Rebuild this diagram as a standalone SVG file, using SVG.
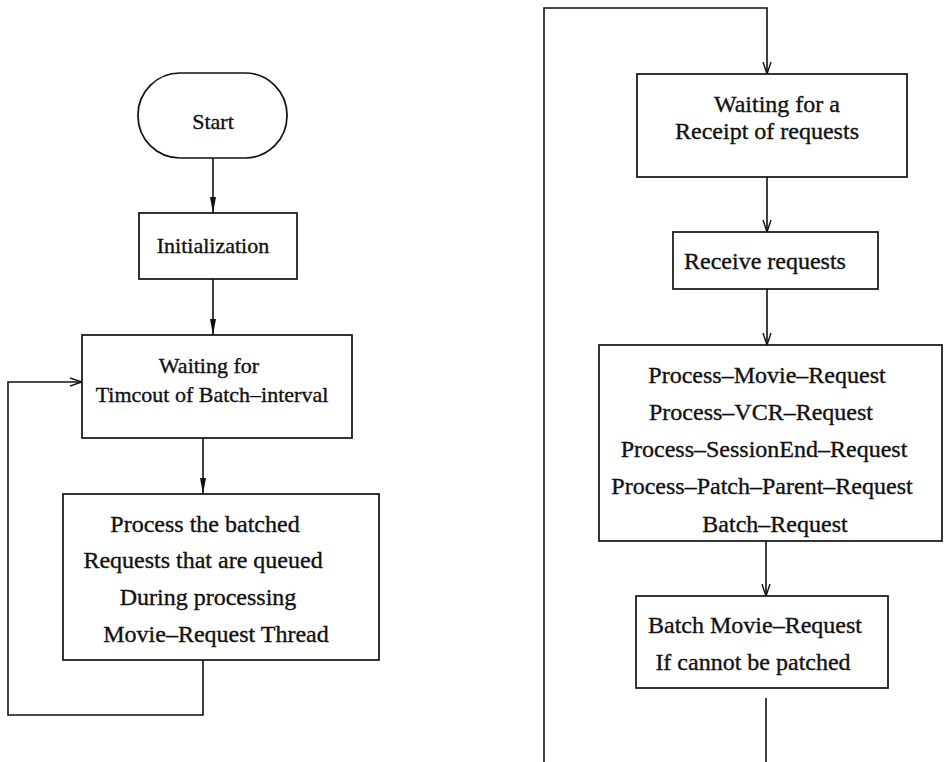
<svg xmlns="http://www.w3.org/2000/svg" width="944" height="762" viewBox="0 0 944 762">
  <style>
    .box { fill: #fff; stroke: #111; stroke-width: 1.7; }
    .ln { fill: none; stroke: #111; stroke-width: 1.6; }
    text { font-family: "Liberation Serif", "Times New Roman", serif; fill: #111; stroke: #111; stroke-width: 0.35; text-anchor: middle; }
    .s22 { font-size: 22px; }
    .s24 { font-size: 24px; }
  </style>
  <defs>
    <marker id="solid" markerUnits="userSpaceOnUse" markerWidth="18" markerHeight="8" refX="16" refY="4" orient="auto">
      <path d="M0,1 L16,4 L0,7 z" fill="#111"/>
    </marker>
    <marker id="open" markerUnits="userSpaceOnUse" markerWidth="14" markerHeight="10" refX="12" refY="5" orient="auto">
      <path d="M0,1 L12,5 L0,9" fill="none" stroke="#111" stroke-width="1.4"/>
    </marker>
  </defs>

  <rect width="944" height="762" fill="#fff"/>

  <!-- connectors -->
  <g id="connectors">
    <line class="ln" x1="213" y1="158" x2="213" y2="213" marker-end="url(#solid)"/>
    <line class="ln" x1="213" y1="279" x2="213" y2="335" marker-end="url(#solid)"/>
    <line class="ln" x1="203" y1="438" x2="203" y2="494" marker-end="url(#solid)"/>
    <polyline class="ln" points="203,660 203,715 8,715 8,382 82,382" marker-end="url(#open)"/>

    <polyline class="ln" points="544,762 544,8 767,8 767,74" marker-end="url(#open)"/>
    <line class="ln" x1="767" y1="177" x2="767" y2="232" marker-end="url(#open)"/>
    <line class="ln" x1="767" y1="289" x2="767" y2="345" marker-end="url(#open)"/>
    <line class="ln" x1="766" y1="541" x2="766" y2="596" marker-end="url(#open)"/>
    <line class="ln" x1="766" y1="698" x2="766" y2="762"/>
  </g>

  <!-- left flow -->
  <g id="start">
    <rect class="box" x="138" y="73" width="149" height="85" rx="42" ry="42"/>
    <text class="s22" x="213" y="129">Start</text>
  </g>
  <g id="init">
    <rect class="box" x="139" y="213" width="158" height="66"/>
    <text class="s22" x="213" y="253">Initialization</text>
  </g>
  <g id="wait-batch">
    <rect class="box" x="82" y="335" width="270" height="103"/>
    <text class="s22" x="209" y="373">Waiting for</text>
    <text class="s22" x="212" y="402">Timcout of Batch–interval</text>
  </g>
  <g id="process-batched">
    <rect class="box" x="63" y="494" width="316" height="166"/>
    <text class="s24" x="205" y="532">Process the batched</text>
    <text class="s24" x="203" y="568">Requests that are queued</text>
    <text class="s24" x="208" y="605">During processing</text>
    <text class="s24" x="216" y="642">Movie–Request Thread</text>
  </g>

  <!-- right flow -->
  <g id="wait-receipt">
    <rect class="box" x="637" y="74" width="270" height="103"/>
    <text class="s24" x="777" y="112">Waiting for a</text>
    <text class="s24" x="767" y="139">Receipt of requests</text>
  </g>
  <g id="receive">
    <rect class="box" x="673" y="232" width="205" height="57"/>
    <text class="s24" x="765" y="269">Receive requests</text>
  </g>
  <g id="dispatch">
    <rect class="box" x="599" y="345" width="343" height="196"/>
    <text class="s24" x="767" y="383">Process–Movie–Request</text>
    <text class="s24" x="761" y="420">Process–VCR–Request</text>
    <text class="s24" x="764" y="457">Process–SessionEnd–Request</text>
    <text class="s24" x="762" y="494">Process–Patch–Parent–Request</text>
    <text class="s24" x="775" y="532">Batch–Request</text>
  </g>
  <g id="batch-movie">
    <rect class="box" x="636" y="596" width="252" height="92"/>
    <text class="s24" x="755" y="633">Batch Movie–Request</text>
    <text class="s24" x="753" y="670">If cannot be patched</text>
  </g>
</svg>
